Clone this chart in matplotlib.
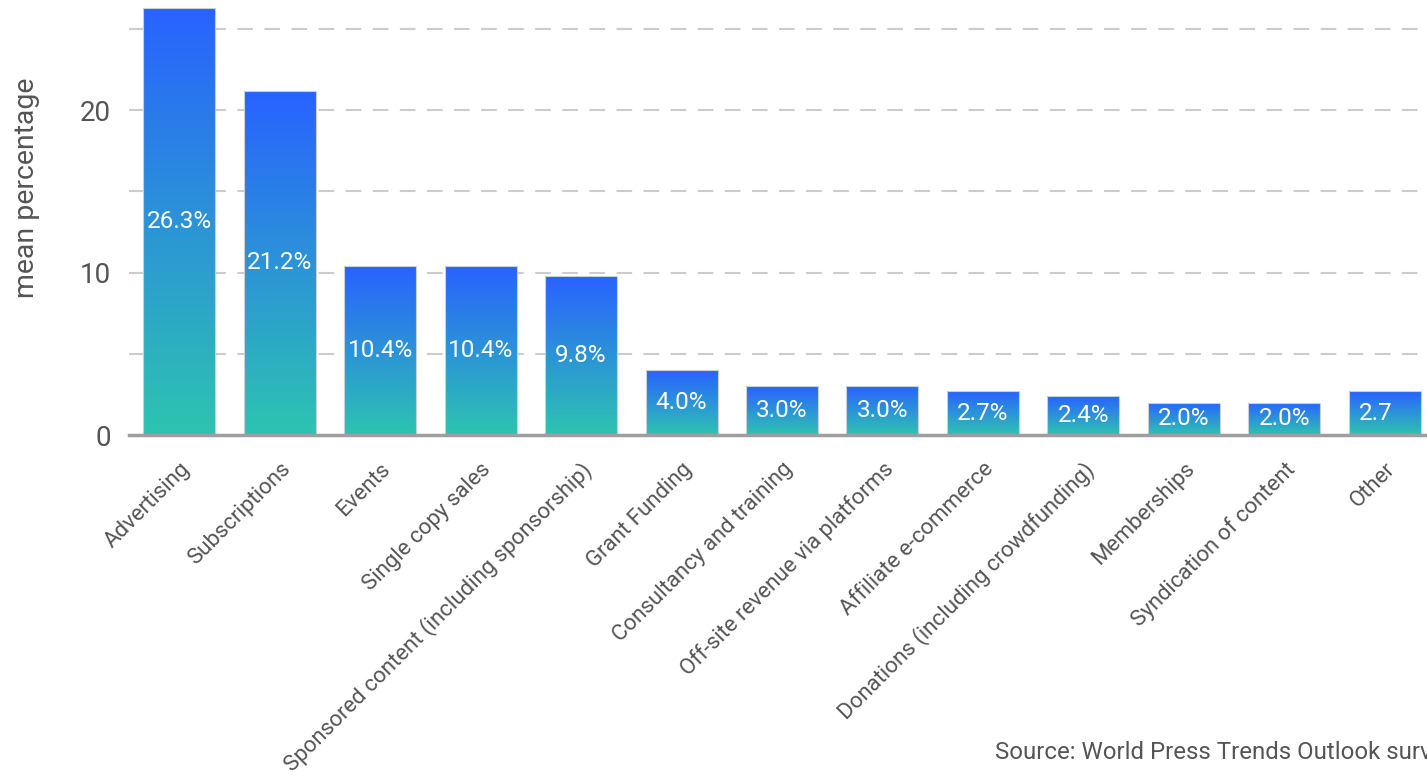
import matplotlib
matplotlib.use("Agg")
import matplotlib.pyplot as plt
import matplotlib.transforms as mtransforms
from matplotlib.colors import LinearSegmentedColormap
import numpy as np

plt.rcParams['font.family'] = ['Roboto', 'DejaVu Sans']

# data
categories = ['Advertising', 'Subscriptions', 'Events', 'Single copy sales',
              'Sponsored content (including sponsorship)', 'Grant Funding',
              'Consultancy and training', 'Off-site revenue via platforms',
              'Affiliate e-commerce', 'Donations (including crowdfunding)',
              'Memberships', 'Syndication of content', 'Other']
values = [26.3, 21.2, 10.4, 10.4, 9.8, 4.0, 3.0, 3.0, 2.7, 2.4, 2.0, 2.0, 2.7]
yticks = [0, 10, 20]
source = 'Source: World Press Trends Outlook survey'

top_col = '#2962ff'
bottom_col = '#2ec4b0'
grad = LinearSegmentedColormap.from_list('g', [bottom_col, top_col])
grey_txt = '#555555'

fig = plt.figure(figsize=(14.27, 7.77), dpi=100)
# the reference is cropped at the right edge, so the axes run past it
ax = fig.add_axes([129 / 1427, 342 / 777, 1306 / 1427, 435 / 777])

x = np.arange(len(values))
bars = ax.bar(x, values, width=0.716, facecolor='none', edgecolor='#c8d0d8',
              linewidth=0.8, zorder=3)

ramp = np.linspace(0, 1, 256).reshape(-1, 1)
for b in bars:
    x0, w, h = b.get_x(), b.get_width(), b.get_height()
    im = ax.imshow(ramp, cmap=grad, origin='lower', aspect='auto',
                   extent=[x0, x0 + w, 0, h], zorder=2)
    im.set_clip_path(b)

ax.set_xlim(-0.5, len(values) - 0.5)
ax.set_ylim(0, 26.77)

# bar labels in the middle of each bar (last one is cut by the crop)
clip = mtransforms.TransformedBbox(mtransforms.Bbox([[0, 0], [1392 / 1427, 1]]),
                                   fig.transFigure)
for xi, v in zip(x, values):
    t = ax.text(xi, v / 2, f'{v:.1f}%', ha='center', va='center',
                color='white', fontsize=17.5, zorder=4)
    t.set_clip_box(clip)
    t.set_clip_on(True)

# grid
for g in [5, 10, 15, 20, 25]:
    ax.axhline(g, color='#cccccc', lw=1.5, ls=(0, (7.5, 5.5)), zorder=1)
ax.axhline(0, color='#9e9e9e', lw=2.5, zorder=5, clip_on=False)

for s in ax.spines.values():
    s.set_visible(False)

ax.set_yticks(yticks)
ax.set_yticklabels([str(t) for t in yticks], fontsize=20, color=grey_txt)
ax.tick_params(axis='y', length=0, pad=13)
ax.set_ylabel('mean percentage', fontsize=20.5, color=grey_txt)
ax.yaxis.set_label_coords(-0.068, 0.568)

ax.set_xticks(x)
ax.set_xticklabels(categories, rotation=45, ha='right', rotation_mode='anchor',
                   fontsize=16, color=grey_txt)
ax.tick_params(axis='x', length=0, pad=17)

fig.text(995 / 1427, 18 / 777, source, fontsize=17.3, color=grey_txt,
         ha='left', va='baseline')

fig.savefig('out.png', dpi=100)
